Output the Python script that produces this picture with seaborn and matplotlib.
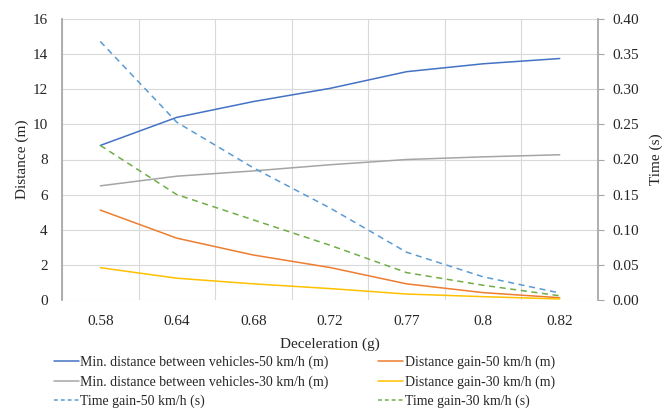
import matplotlib
matplotlib.use("Agg")
import matplotlib.pyplot as plt
import seaborn as sns
import pandas as pd
from matplotlib.lines import Line2D

decel = ["0.58", "0.64", "0.68", "0.72", "0.77", "0.8", "0.82"]

min_dist_50 = [8.8, 10.4, 11.3, 12.05, 13.0, 13.45, 13.75]
min_dist_30 = [6.5, 7.05, 7.35, 7.7, 8.0, 8.15, 8.27]
dist_gain_50 = [5.12, 3.52, 2.56, 1.85, 0.92, 0.42, 0.13]
dist_gain_30 = [1.84, 1.24, 0.92, 0.65, 0.34, 0.19, 0.06]
time_gain_50 = [0.368, 0.253, 0.188, 0.131, 0.068, 0.033, 0.010]
time_gain_30 = [0.220, 0.150, 0.114, 0.078, 0.039, 0.021, 0.006]

labels = {
    "md50": "Min. distance between vehicles-50 km/h (m)",
    "md30": "Min. distance between vehicles-30 km/h (m)",
    "dg50": "Distance gain-50 km/h (m)",
    "dg30": "Distance gain-30 km/h (m)",
    "tg50": "Time gain-50 km/h (s)",
    "tg30": "Time gain-30 km/h (s)",
}
colors = {
    "md50": "#4472C4", "md30": "#A5A5A5", "dg50": "#ED7D31",
    "dg30": "#FFC000", "tg50": "#5B9BD5", "tg30": "#70AD47",
}

sns.set_theme(style="white")
plt.rcParams["font.family"] = ["Liberation Serif", "DejaVu Serif"]

fig = plt.figure(figsize=(6.63, 4.09), dpi=100)
ax = fig.add_axes([62 / 663, 1 - 300 / 409, (598 - 62) / 663, (300 - 19) / 409])
ax2 = ax.twinx()

dist_df = pd.DataFrame({"x": decel * 4,
                        "val": min_dist_50 + min_dist_30 + dist_gain_50 + dist_gain_30,
                        "s": ["md50"] * 7 + ["md30"] * 7 + ["dg50"] * 7 + ["dg30"] * 7})
time_df = pd.DataFrame({"x": decel * 2,
                        "val": time_gain_50 + time_gain_30,
                        "s": ["tg50"] * 7 + ["tg30"] * 7})

lw = 1.1
sns.lineplot(data=dist_df, x="x", y="val", hue="s", palette=colors, ax=ax,
             linewidth=lw, legend=False, sort=False)
sns.lineplot(data=time_df, x="x", y="val", hue="s", palette=colors, ax=ax2,
             linewidth=lw, legend=False, sort=False)
for ln in ax2.get_lines():
    ln.set_linestyle((0, (4, 3)))

ax.set_xlim(-0.5, len(decel) - 0.5)
ax.set_ylim(0, 16)
ax.set_yticks(range(0, 17, 2))
ax2.set_ylim(0, 0.40)
ax2.set_yticks([i * 0.05 for i in range(9)])
ax2.set_yticklabels([f"{i * 0.05:.2f}" for i in range(9)])

# category boundaries as vertical gridlines
ax.set_xticks([i - 0.5 for i in range(len(decel) + 1)], minor=True)
ax.grid(which="minor", axis="x", color="#D9D9D9", linewidth=0.8)
ax.grid(which="major", axis="y", color="#D9D9D9", linewidth=0.8)
ax.grid(which="major", axis="x", visible=False)
ax.set_axisbelow(True)

for a in (ax, ax2):
    for sp in a.spines.values():
        sp.set_visible(False)
ax.spines["left"].set_visible(True)
ax.spines["left"].set_color("#A6A6A6")
ax2.spines["right"].set_visible(True)
ax2.spines["right"].set_color("#A6A6A6")

fs = 11
ax.tick_params(axis="x", which="both", length=0, labelsize=fs, pad=10.9, colors="#262626")
ax.tick_params(axis="y", length=0, labelsize=fs, pad=10.3, colors="#262626")
ax2.tick_params(axis="y", length=4, width=0.8, color="#A6A6A6", direction="out",
                labelsize=fs, pad=6.6, labelcolor="#262626")

ax.set_xlabel("Deceleration (g)", fontsize=fs, color="#262626", labelpad=6.6)
ax.set_ylabel("Distance (m)", fontsize=fs, color="#262626", labelpad=2.6)
ax2.set_ylabel("Time (s)", fontsize=fs, color="#262626", labelpad=7.6)

order = ["md50", "md30", "tg50", "dg50", "dg30", "tg30"]
handles = []
for k in order:
    ls = (0, (2.5, 2)) if k.startswith("tg") else "-"
    handles.append(Line2D([0], [0], color=colors[k], linewidth=lw, linestyle=ls))
fig.legend(handles, [labels[k] for k in order], ncol=2, loc="upper left",
           bbox_to_anchor=(41 / 663, 1 - 343 / 409), frameon=False,
           fontsize=10, handlelength=1.8, handletextpad=0.1,
           columnspacing=3.6, labelspacing=0.44, labelcolor="#262626")

fig.savefig("out.png", dpi=100)
